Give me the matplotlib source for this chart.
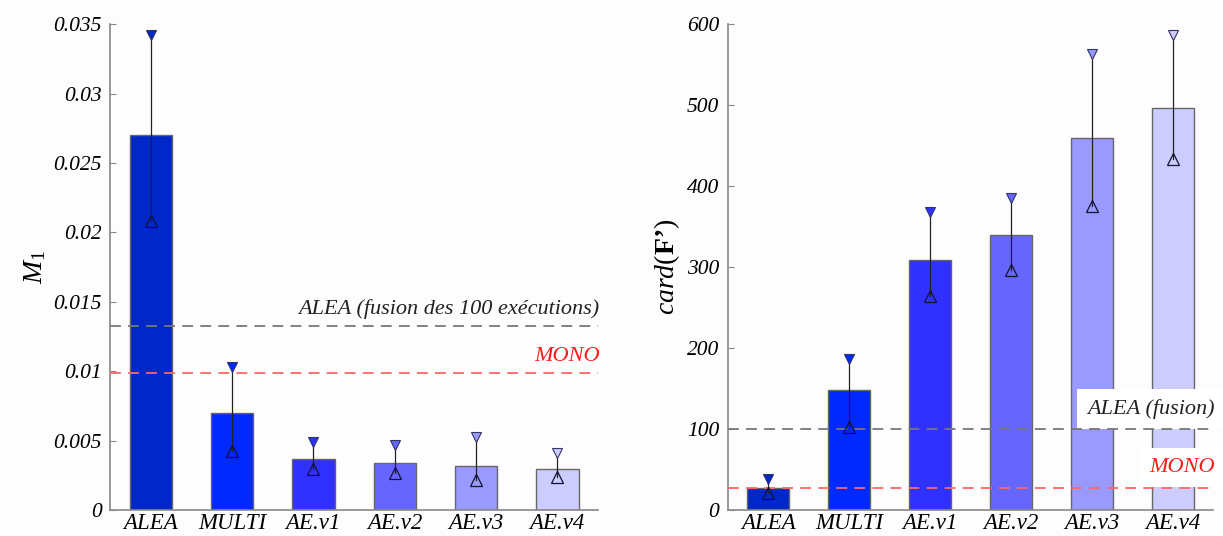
import matplotlib.pyplot as plt
import numpy as np

plt.rcParams['font.family'] = 'Liberation Serif'
plt.rcParams['font.style'] = 'italic'
plt.rcParams['mathtext.fontset'] = 'custom'
plt.rcParams['mathtext.rm'] = 'Liberation Serif:style=normal'
plt.rcParams['mathtext.it'] = 'Liberation Serif:style=italic'
plt.rcParams['mathtext.bf'] = 'Liberation Serif:style=normal:weight=bold'

methods = ['ALEA', 'MULTI', 'AE.v1', 'AE.v2', 'AE.v3', 'AE.v4']
colors = ['#0028c8', '#0028ff', '#3030ff', '#6666ff', '#9999ff', '#ccccff']

m1 = [0.0270, 0.0070, 0.0037, 0.0034, 0.0032, 0.0030]
m1_hi = [0.0342, 0.0103, 0.0049, 0.0047, 0.0053, 0.0041]
m1_lo = [0.0208, 0.0043, 0.0030, 0.0027, 0.0022, 0.0024]
m1_alea_fusion = 0.0133
m1_mono = 0.0099

card = [28, 148, 309, 340, 459, 496]
card_hi = [38, 187, 368, 385, 563, 587]
card_lo = [21, 103, 265, 297, 375, 433]
card_alea_fusion = 100
card_mono = 27

fig = plt.figure(figsize=(12.23, 5.36), dpi=100)
fig.patch.set_facecolor('#fdfdfd')
ax1 = fig.add_axes([0.090, 0.048, 0.399, 0.907])
ax2 = fig.add_axes([0.595, 0.048, 0.397, 0.907])


def draw(ax, vals, hi, lo, ref, mono, ref_text, ylim, yticks, yticklabels, ylabel, boxed):
    x = np.arange(len(methods))
    ax.set_facecolor('#fdfdfd')
    ax.bar(x, vals, width=0.52, color=colors, edgecolor='#666666', linewidth=1, zorder=2)
    for i in range(len(x)):
        ax.plot([x[i], x[i]], [lo[i], hi[i]], color='#222222', lw=0.9, zorder=5)
        ax.plot(x[i], hi[i], marker='v', ms=7, mfc=colors[i], mec='#333366', mew=0.8, zorder=6)
        ax.plot(x[i], lo[i], marker='^', ms=8, mfc='none', mec='#111133', mew=0.9, zorder=6)
    ax.axhline(ref, color='#777777', ls=(0, (6, 4)), lw=1.3, zorder=4)
    ax.axhline(mono, color='#ff6666', ls=(0, (6, 4)), lw=1.3, zorder=4)
    span = ylim[1] - ylim[0]
    if boxed:
        bb = dict(facecolor='white', edgecolor='none', boxstyle='square,pad=0.45')
        # white box sits right on top of each reference line
        ax.text(5.52, ref + span * 0.042, ref_text, ha='right', va='center', fontsize=16,
                color='#222222', bbox=bb, zorder=3)
        ax.text(5.52, mono + span * 0.042, 'MONO', ha='right', va='center', fontsize=16,
                color='#ff1a1a', bbox=bb, zorder=3)
    else:
        ax.text(5.52, ref + span * 0.013, ref_text, ha='right', va='bottom', fontsize=16,
                color='#222222', zorder=3)
        ax.text(5.52, mono + span * 0.013, 'MONO', ha='right', va='bottom', fontsize=16,
                color='#ff1a1a', zorder=3)
    ax.set_xlim(-0.5, 5.5)
    ax.set_ylim(*ylim)
    ax.set_xticks(x)
    ax.set_xticklabels(methods, fontsize=16.5)
    ax.set_yticks(yticks)
    ax.set_yticklabels(yticklabels, fontsize=15.5)
    ax.set_ylabel(ylabel, fontsize=20)
    ax.tick_params(axis='y', direction='in', length=4, color='#888888', pad=6)
    ax.tick_params(axis='x', length=0, pad=2)
    for s in ['top', 'right']:
        ax.spines[s].set_visible(False)
    for s in ['left', 'bottom']:
        ax.spines[s].set_color('#888888')
        ax.spines[s].set_linewidth(1.2)


draw(ax1, m1, m1_hi, m1_lo, m1_alea_fusion, m1_mono, 'ALEA (fusion des 100 exécutions)',
     (0, 0.035), np.arange(0, 0.0351, 0.005),
     ['0', '0.005', '0.01', '0.015', '0.02', '0.025', '0.03', '0.035'], r'$M_1$', False)
draw(ax2, card, card_hi, card_lo, card_alea_fusion, card_mono, 'ALEA (fusion)',
     (0, 600), np.arange(0, 601, 100),
     ['0', '100', '200', '300', '400', '500', '600'], '$\\mathit{card}(\\mathbf{F’})$', True)

plt.savefig('out.png', dpi=100, facecolor=fig.get_facecolor())
